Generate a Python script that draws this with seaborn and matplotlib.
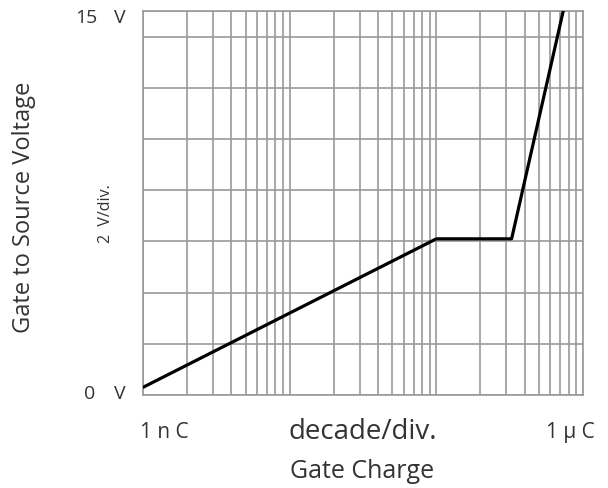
import matplotlib
matplotlib.use("Agg")
import matplotlib.pyplot as plt
import seaborn as sns
import numpy as np
import pandas as pd
from matplotlib.ticker import LogLocator, NullFormatter, FixedLocator

# Data
charge_nC = [1, 100, 326, 733]
vgs_V = [0.3, 6.1, 6.1, 15.0]
y_grid = [0, 2, 4, 6, 8, 10, 12, 14, 15]

sns.set_theme(style="white")
plt.rcParams['font.family'] = ['Open Sans', 'DejaVu Sans']

W, H = 608, 489
fig = plt.figure(figsize=(W / 100, H / 100), dpi=100)
L, R, T, B = 143, 583, 12, 396
ax = fig.add_axes([L / W, 1 - B / H, (R - L) / W, (B - T) / H])

df = pd.DataFrame({"charge": charge_nC, "vgs": vgs_V})
sns.lineplot(data=df, x="charge", y="vgs", sort=False, estimator=None,
             color="black", lw=2.3, ax=ax, zorder=5)

ax.set_xscale("log")
ax.set_xlim(1, 1000)
ax.set_ylim(0, 15)
ax.xaxis.set_major_locator(LogLocator(base=10))
ax.xaxis.set_minor_locator(LogLocator(base=10, subs=np.arange(2, 10)))
ax.xaxis.set_major_formatter(NullFormatter())
ax.xaxis.set_minor_formatter(NullFormatter())
ax.yaxis.set_major_locator(FixedLocator(y_grid))
ax.yaxis.set_major_formatter(NullFormatter())
ax.tick_params(which="both", length=0)
ax.grid(which="both", axis="both", color="#999999", lw=1.2)
ax.set_xlabel("")
ax.set_ylabel("")
for s in ax.spines.values():
    s.set_color("#999999")
    s.set_linewidth(1.2)

tc = "#333333"
def ftext(x, y, s, **kw):
    fig.text(x / W, 1 - y / H, s, color=tc, **kw)

ftext(97, 18, "15", ha="right", va="center", fontsize=14)
ftext(120, 18, "V", ha="center", va="center", fontsize=14)
ftext(95, 394, "0", ha="right", va="center", fontsize=14)
ftext(120, 394, "V", ha="center", va="center", fontsize=14)
ftext(106, 214, "2  V/div.", ha="center", va="center", rotation=90, fontsize=11.5)
ftext(24, 207, "Gate to Source Voltage", ha="center", va="center", rotation=90, fontsize=17)
ftext(164, 433, "1 n C", ha="center", va="center", fontsize=15)
ftext(363, 432, "decade/div.", ha="center", va="center", fontsize=20)
ftext(570, 433, "1 µ C", ha="center", va="center", fontsize=15)
ftext(362, 472, "Gate Charge", ha="center", va="center", fontsize=18)

fig.savefig("out.png", dpi=100, facecolor="white")
